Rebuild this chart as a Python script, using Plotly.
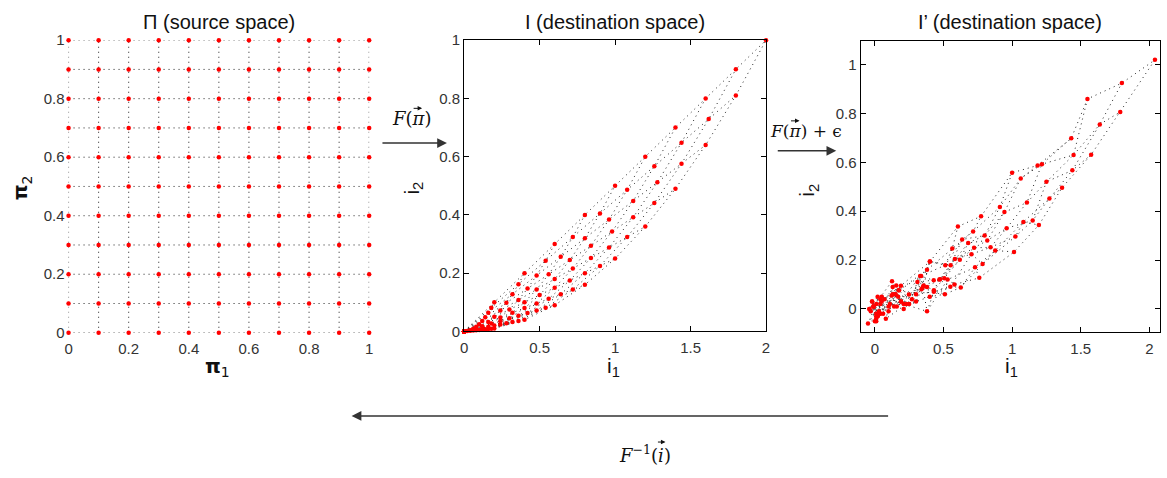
import plotly.graph_objects as go

W, H = 1167, 478

# ---------------- data ----------------
# source grid (pi_1 and pi_2 take the same values)
PI_VALUES = [0.0, 0.1, 0.2, 0.3, 0.4, 0.5, 0.6, 0.7, 0.8, 0.9, 1.0]

# destination space I : rows = pi_2 index, columns = pi_1 index
I1_ROWS = [
    [0, 0, 0, 0, 0, 0, 0, 0, 0, 0, 0],
    [0, 0.02, 0.04, 0.06, 0.08, 0.10, 0.12, 0.14, 0.16, 0.18, 0.20],
    [0, 0.04, 0.08, 0.12, 0.16, 0.20, 0.24, 0.28, 0.32, 0.36, 0.40],
    [0, 0.06, 0.12, 0.18, 0.24, 0.30, 0.36, 0.42, 0.48, 0.54, 0.60],
    [0, 0.08, 0.16, 0.24, 0.32, 0.40, 0.48, 0.56, 0.64, 0.72, 0.80],
    [0, 0.10, 0.20, 0.30, 0.40, 0.50, 0.60, 0.70, 0.80, 0.90, 1.00],
    [0, 0.12, 0.24, 0.36, 0.48, 0.60, 0.72, 0.84, 0.96, 1.08, 1.20],
    [0, 0.14, 0.28, 0.42, 0.56, 0.70, 0.84, 0.98, 1.12, 1.26, 1.40],
    [0, 0.16, 0.32, 0.48, 0.64, 0.80, 0.96, 1.12, 1.28, 1.44, 1.60],
    [0, 0.18, 0.36, 0.54, 0.72, 0.90, 1.08, 1.26, 1.44, 1.62, 1.80],
    [0, 0.20, 0.40, 0.60, 0.80, 1.00, 1.20, 1.40, 1.60, 1.80, 2.00],
]
I2_ROWS = [
    [0, 0, 0, 0, 0, 0, 0, 0, 0, 0, 0],
    [0, 0.001, 0.002, 0.003, 0.004, 0.005, 0.006, 0.007, 0.008, 0.009, 0.010],
    [0, 0.004, 0.008, 0.012, 0.016, 0.020, 0.024, 0.028, 0.032, 0.036, 0.040],
    [0, 0.009, 0.018, 0.027, 0.036, 0.045, 0.054, 0.063, 0.072, 0.081, 0.090],
    [0, 0.016, 0.032, 0.048, 0.064, 0.080, 0.096, 0.112, 0.128, 0.144, 0.160],
    [0, 0.025, 0.050, 0.075, 0.100, 0.125, 0.150, 0.175, 0.200, 0.225, 0.250],
    [0, 0.036, 0.072, 0.108, 0.144, 0.180, 0.216, 0.252, 0.288, 0.324, 0.360],
    [0, 0.049, 0.098, 0.147, 0.196, 0.245, 0.294, 0.343, 0.392, 0.441, 0.490],
    [0, 0.064, 0.128, 0.192, 0.256, 0.320, 0.384, 0.448, 0.512, 0.576, 0.640],
    [0, 0.081, 0.162, 0.243, 0.324, 0.405, 0.486, 0.567, 0.648, 0.729, 0.810],
    [0, 0.100, 0.200, 0.300, 0.400, 0.500, 0.600, 0.700, 0.800, 0.900, 1.000],
]

# noisy destination space I' (read / estimated from the picture)
N1_ROWS = [
    [-0.03, 0.01, -0.05, 0.02, -0.01, 0.04, -0.02, 0.00, 0.03, -0.04, 0.01],
    [0.02, -0.01, 0.07, 0.03, 0.11, 0.08, 0.15, 0.10, 0.19, 0.21, 0.17],
    [-0.02, 0.06, 0.05, 0.14, 0.13, 0.23, 0.21, 0.30, 0.35, 0.38, 0.43],
    [0.01, 0.04, 0.16, 0.15, 0.25, 0.34, 0.38, 0.40, 0.51, 0.53, 0.58],
    [0.04, 0.10, 0.13, 0.27, 0.31, 0.43, 0.47, 0.55, 0.626, 0.73, 0.761],
    [-0.01, 0.125, 0.19, 0.33, 0.429, 0.506, 0.583, 0.704, 0.785, 0.877, 1.014],
    [0.05, 0.156, 0.248, 0.356, 0.475, 0.619, 0.723, 0.843, 1.024, 1.082, 1.195],
    [0.01, 0.175, 0.30, 0.40, 0.552, 0.68, 0.819, 0.96, 1.15, 1.272, 1.364],
    [0.02, 0.122, 0.337, 0.513, 0.636, 0.80, 0.944, 1.108, 1.25, 1.439, 1.576],
    [-0.04, 0.175, 0.38, 0.564, 0.716, 0.911, 1.063, 1.217, 1.448, 1.639, 1.788],
    [0.01, 0.19, 0.402, 0.605, 0.774, 1.0, 1.186, 1.431, 1.549, 1.80, 2.041],
]
N2_ROWS = [
    [-0.01, 0.02, -0.06, -0.03, 0.01, -0.02, 0.03, -0.05, -0.01, 0.00, -0.04],
    [-0.03, 0.01, 0.04, -0.02, 0.02, -0.04, 0.06, 0.01, 0.03, 0.02, 0.05],
    [0.03, -0.02, 0.05, 0.01, 0.06, 0.02, 0.00, 0.03, 0.09, -0.01, 0.07],
    [-0.05, 0.04, 0.01, 0.06, 0.02, 0.08, 0.09, 0.05, 0.06, 0.12, 0.10],
    [0.02, -0.01, 0.09, 0.04, 0.11, 0.076, 0.12, 0.091, 0.088, 0.17, 0.127],
    [0.01, 0.113, 0.03, 0.135, 0.117, 0.125, 0.204, 0.224, 0.184, 0.239, 0.233],
    [0.03, 0.096, 0.059, 0.096, 0.121, 0.201, 0.250, 0.252, 0.296, 0.356, 0.343],
    [-0.03, 0.076, 0.06, 0.194, 0.179, 0.27, 0.28, 0.33, 0.362, 0.452, 0.496],
    [0.05, 0.055, 0.135, 0.179, 0.284, 0.30, 0.396, 0.435, 0.52, 0.567, 0.631],
    [0.00, 0.076, 0.16, 0.247, 0.317, 0.417, 0.534, 0.592, 0.630, 0.755, 0.806],
    [-0.02, 0.095, 0.194, 0.337, 0.379, 0.557, 0.587, 0.698, 0.859, 0.924, 1.019],
]

TITLES = ["\u03a0 (source space)", "I (destination space)", "I\u2019 (destination space)"]
X2_TICKS = [0, 0.5, 1, 1.5, 2]
X2_TEXT = ["0", "0.5", "1", "1.5", "2"]
Y_TICKS = [0, 0.2, 0.4, 0.6, 0.8, 1]
Y_TEXT = ["0", "0.2", "0.4", "0.6", "0.8", "1"]

# ---------------- helpers ----------------
def px_x(p):
    return p / W

def px_y(p):
    return 1 - p / H

def mesh(xr, yr):
    """rows and columns of a grid -> one polyline with gaps"""
    xs, ys = [], []
    n = len(xr)
    for j in range(n):
        xs += list(xr[j]) + [None]
        ys += list(yr[j]) + [None]
    for k in range(n):
        xs += [xr[j][k] for j in range(n)] + [None]
        ys += [yr[j][k] for j in range(n)] + [None]
    return xs, ys

def flat(m):
    return [v for row in m for v in row]

P1_ROWS = [[PI_VALUES[k] for k in range(len(PI_VALUES))] for j in range(len(PI_VALUES))]
P2_ROWS = [[PI_VALUES[j] for k in range(len(PI_VALUES))] for j in range(len(PI_VALUES))]

LINE = dict(color="#222222", width=1, dash="1px,4px")
MARK = dict(color="#ff0000", size=4.5, line=dict(width=0))

fig = go.Figure()
panels = [
    (P1_ROWS, P2_ROWS, "x", "y"),
    (I1_ROWS, I2_ROWS, "x2", "y2"),
    (N1_ROWS, N2_ROWS, "x3", "y3"),
]
for xr, yr, xa, ya in panels:
    mx, my = mesh(xr, yr)
    fig.add_trace(go.Scatter(x=mx, y=my, mode="lines", line=LINE, xaxis=xa, yaxis=ya,
                             hoverinfo="skip", cliponaxis=False, showlegend=False))
    fig.add_trace(go.Scatter(x=flat(xr), y=flat(yr), mode="markers", marker=MARK,
                             xaxis=xa, yaxis=ya, cliponaxis=False, showlegend=False))

TICKFONT = dict(family="Liberation Sans, Arial, sans-serif", size=15, color="#333333")

common_box = dict(showline=True, linecolor="#000000", linewidth=1, mirror="allticks",
                  ticks="inside", ticklen=5, tickcolor="#000000", showgrid=False,
                  zeroline=False, tickfont=TICKFONT)

fig.update_layout(
    width=W, height=H, autosize=False,
    margin=dict(l=0, r=0, t=0, b=0),
    paper_bgcolor="white", plot_bgcolor="white",
    showlegend=False,
    xaxis=dict(domain=[px_x(65), px_x(367.7)], range=[0, 1], tickvals=Y_TICKS,
               ticktext=Y_TEXT, showline=False, showgrid=False, zeroline=False, ticks="",
               tickfont=TICKFONT, ticklabelstandoff=5, anchor="y"),
    yaxis=dict(domain=[px_y(335.7), px_y(32.3)], range=[0, 1], tickvals=Y_TICKS,
               ticktext=Y_TEXT, showline=False, showgrid=False, zeroline=False, ticks="",
               tickfont=TICKFONT, ticklabelstandoff=3, anchor="x"),
    xaxis2=dict(domain=[px_x(463.3), px_x(767.3)], range=[0, 2], tickvals=X2_TICKS,
                ticktext=X2_TEXT, anchor="y2", ticklabelstandoff=3, **common_box),
    yaxis2=dict(domain=[px_y(334.3), px_y(32.3)], range=[0, 1], tickvals=Y_TICKS,
                ticktext=Y_TEXT, anchor="x2", ticklabelstandoff=0, **common_box),
    xaxis3=dict(domain=[px_x(862.5), px_x(1164.3)], range=[-0.104, 2.08], tickvals=X2_TICKS,
                ticktext=X2_TEXT, anchor="y3", ticklabelstandoff=3, **common_box),
    yaxis3=dict(domain=[px_y(335.3), px_y(32.7)], range=[-0.096, 1.098], tickvals=Y_TICKS,
                ticktext=Y_TEXT, anchor="x3", ticklabelstandoff=0, **common_box),
)

def text_ann(text, x, y, font, **kw):
    d = dict(text=text, x=px_x(x), y=px_y(y), xref="paper", yref="paper",
             showarrow=False, xanchor="center", yanchor="middle", font=font)
    d.update(kw)
    return d

def arrow_ann(tip_x, tip_y, tail_x, width, size, color):
    return dict(text="", x=px_x(tip_x), y=px_y(tip_y), xref="paper", yref="paper",
                ax=tail_x - tip_x, ay=0, showarrow=True, arrowhead=2, arrowsize=size,
                arrowwidth=width, arrowcolor=color, standoff=0)

ann = []
TITLEFONT = dict(family="Liberation Sans, Arial, sans-serif", size=20, color="#111111")
for t, cx in zip(TITLES, [216, 615, 1013]):
    ann.append(text_ann(t, cx, 13, TITLEFONT))

LABFONT = dict(family="DejaVu Sans, sans-serif", size=20, color="#111111")
IFONT = dict(family="Liberation Sans, Arial, sans-serif", size=21, color="#111111")
ann += [
    text_ann("<b>\u03c0</b><sub>1</sub>", 215, 371, LABFONT),
    text_ann("<b>\u03c0</b><sub>2</sub>", 18, 185, LABFONT, textangle=-90),
    text_ann("i<sub>1</sub>", 614, 371, IFONT),
    text_ann("i<sub>2</sub>", 412, 186, IFONT, textangle=-90),
    text_ann("i<sub>1</sub>", 1014, 371, IFONT),
    text_ann("i<sub>2</sub>", 810, 188, IFONT, textangle=-90),
]

MATH = dict(family="DejaVu Serif, serif", size=18, color="#111111")
MATH2 = dict(family="DejaVu Serif, serif", size=17, color="#111111")
ann += [
    text_ann("<i>F</i>(<i>\u03c0</i>)", 410, 114, MATH),
    text_ann("<i>F</i>(<i>\u03c0</i>) + \u03f5", 808, 127, MATH2),
    text_ann("<i>F</i><sup>\u22121</sup>(<i>i</i>)", 645, 461, MATH),
]

# small vector accents over pi and i
ann += [
    arrow_ann(421, 103, 411, 1, 0.9, "#111111"),
    arrow_ann(801, 116, 791, 1, 0.9, "#111111"),
    arrow_ann(666, 449, 657, 1, 0.9, "#111111"),
]

# big arrows between panels
for tip_x, tip_y, tail_x in [(446, 139, 380), (838, 147, 778), (350, 422, 888)]:
    ann.append(arrow_ann(tip_x, tip_y, tail_x, 1.5, 1.3, "#333333"))

fig.update_layout(annotations=ann)
fig.write_html("out.html")
